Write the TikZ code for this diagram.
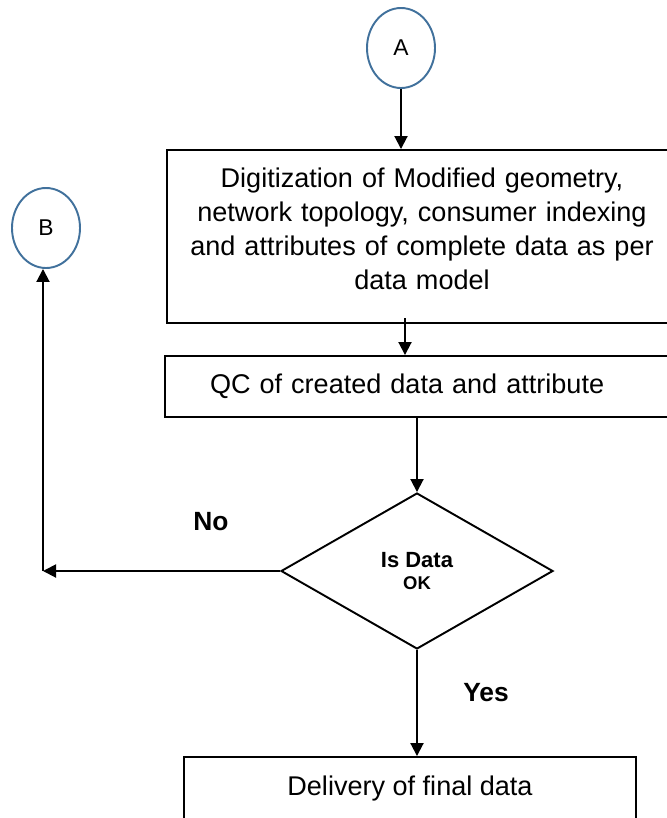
\documentclass[tikz,border=0pt]{standalone}
\definecolor{circblue}{RGB}{65, 113, 156}
\usepackage{fontspec}
\setmainfont{Liberation Sans}
\usepackage{tikz}
\usetikzlibrary{shapes, arrows.meta, positioning, calc}

\begin{document}
\begin{tikzpicture}[
    connector/.style={draw=circblue, line width=1.1pt, ellipse, minimum width=1.36cm, minimum height=1.6cm, inner sep=0pt, font=\fontsize{13}{15}\selectfont},
    procbox/.style={draw, line width=1.1pt, rectangle, inner sep=0pt, font=\fontsize{15.4}{19.3}\selectfont},
    decision/.style={draw, line width=1.1pt, diamond, minimum width=5.44cm, minimum height=3.12cm, inner sep=0pt, align=center},
    answer/.style={font=\fontsize{15}{18}\selectfont\bfseries},
    flow/.style={line width=1.1pt, -{Triangle[length=0.26cm, width=0.26cm]}}
  ]
  \useasboundingbox (0,0) rectangle (13.34,-16.36);

  % Off-page connectors
  \node[connector] (A) at (8.02, -0.96) {A};
  \node[connector] (B) at (0.92, -4.56) {B};

  % Process boxes
  \node[procbox, minimum width=10.2cm, minimum height=3.46cm, text width=10.2cm, align=center] (dig) at (8.44, -4.73) {
    Digitization of Modified geometry,\\
    network topology, consumer indexing\\
    and attributes of complete data as per\\
    data model\\[-0.36cm]\mbox{}
  };

  \node[procbox, minimum width=10.24cm, minimum height=1.22cm, text width=8.44cm, inner xsep=0.9cm, align=left] (qc) at (8.42, -7.73) {
    QC of created data and attribute
  };

  % Decision
  \node[decision] (isok) at (8.34, -11.42) {
    {\fontsize{12.5}{17}\selectfont\bfseries Is Data}\\
    {\fontsize{10.5}{12}\selectfont\bfseries OK}
  };

  \node[procbox, minimum width=9.04cm, minimum height=1.24cm] (final) at (8.2, -15.76) {
    Delivery of final data
  };

  % Branch labels
  \node[answer] (no) at (4.22, -10.44) {No};
  \node[answer] (yes) at (9.72, -13.86) {Yes};

  % Connectors
  \coordinate (digout) at (8.1, -6.36);
  \coordinate (corner) at (0.86, -11.42);

  \draw[flow] (A) -- (A |- dig.north);
  \draw[flow] (digout) -- (digout |- qc.north);
  \draw[flow] (qc.south -| isok.north) -- (isok.north);
  \draw[flow] (isok.west) -- (corner);
  \draw[flow] (corner) -- (corner |- B.south);
  \draw[flow] (isok.south) -- (isok.south |- final.north);
\end{tikzpicture}
\end{document}
